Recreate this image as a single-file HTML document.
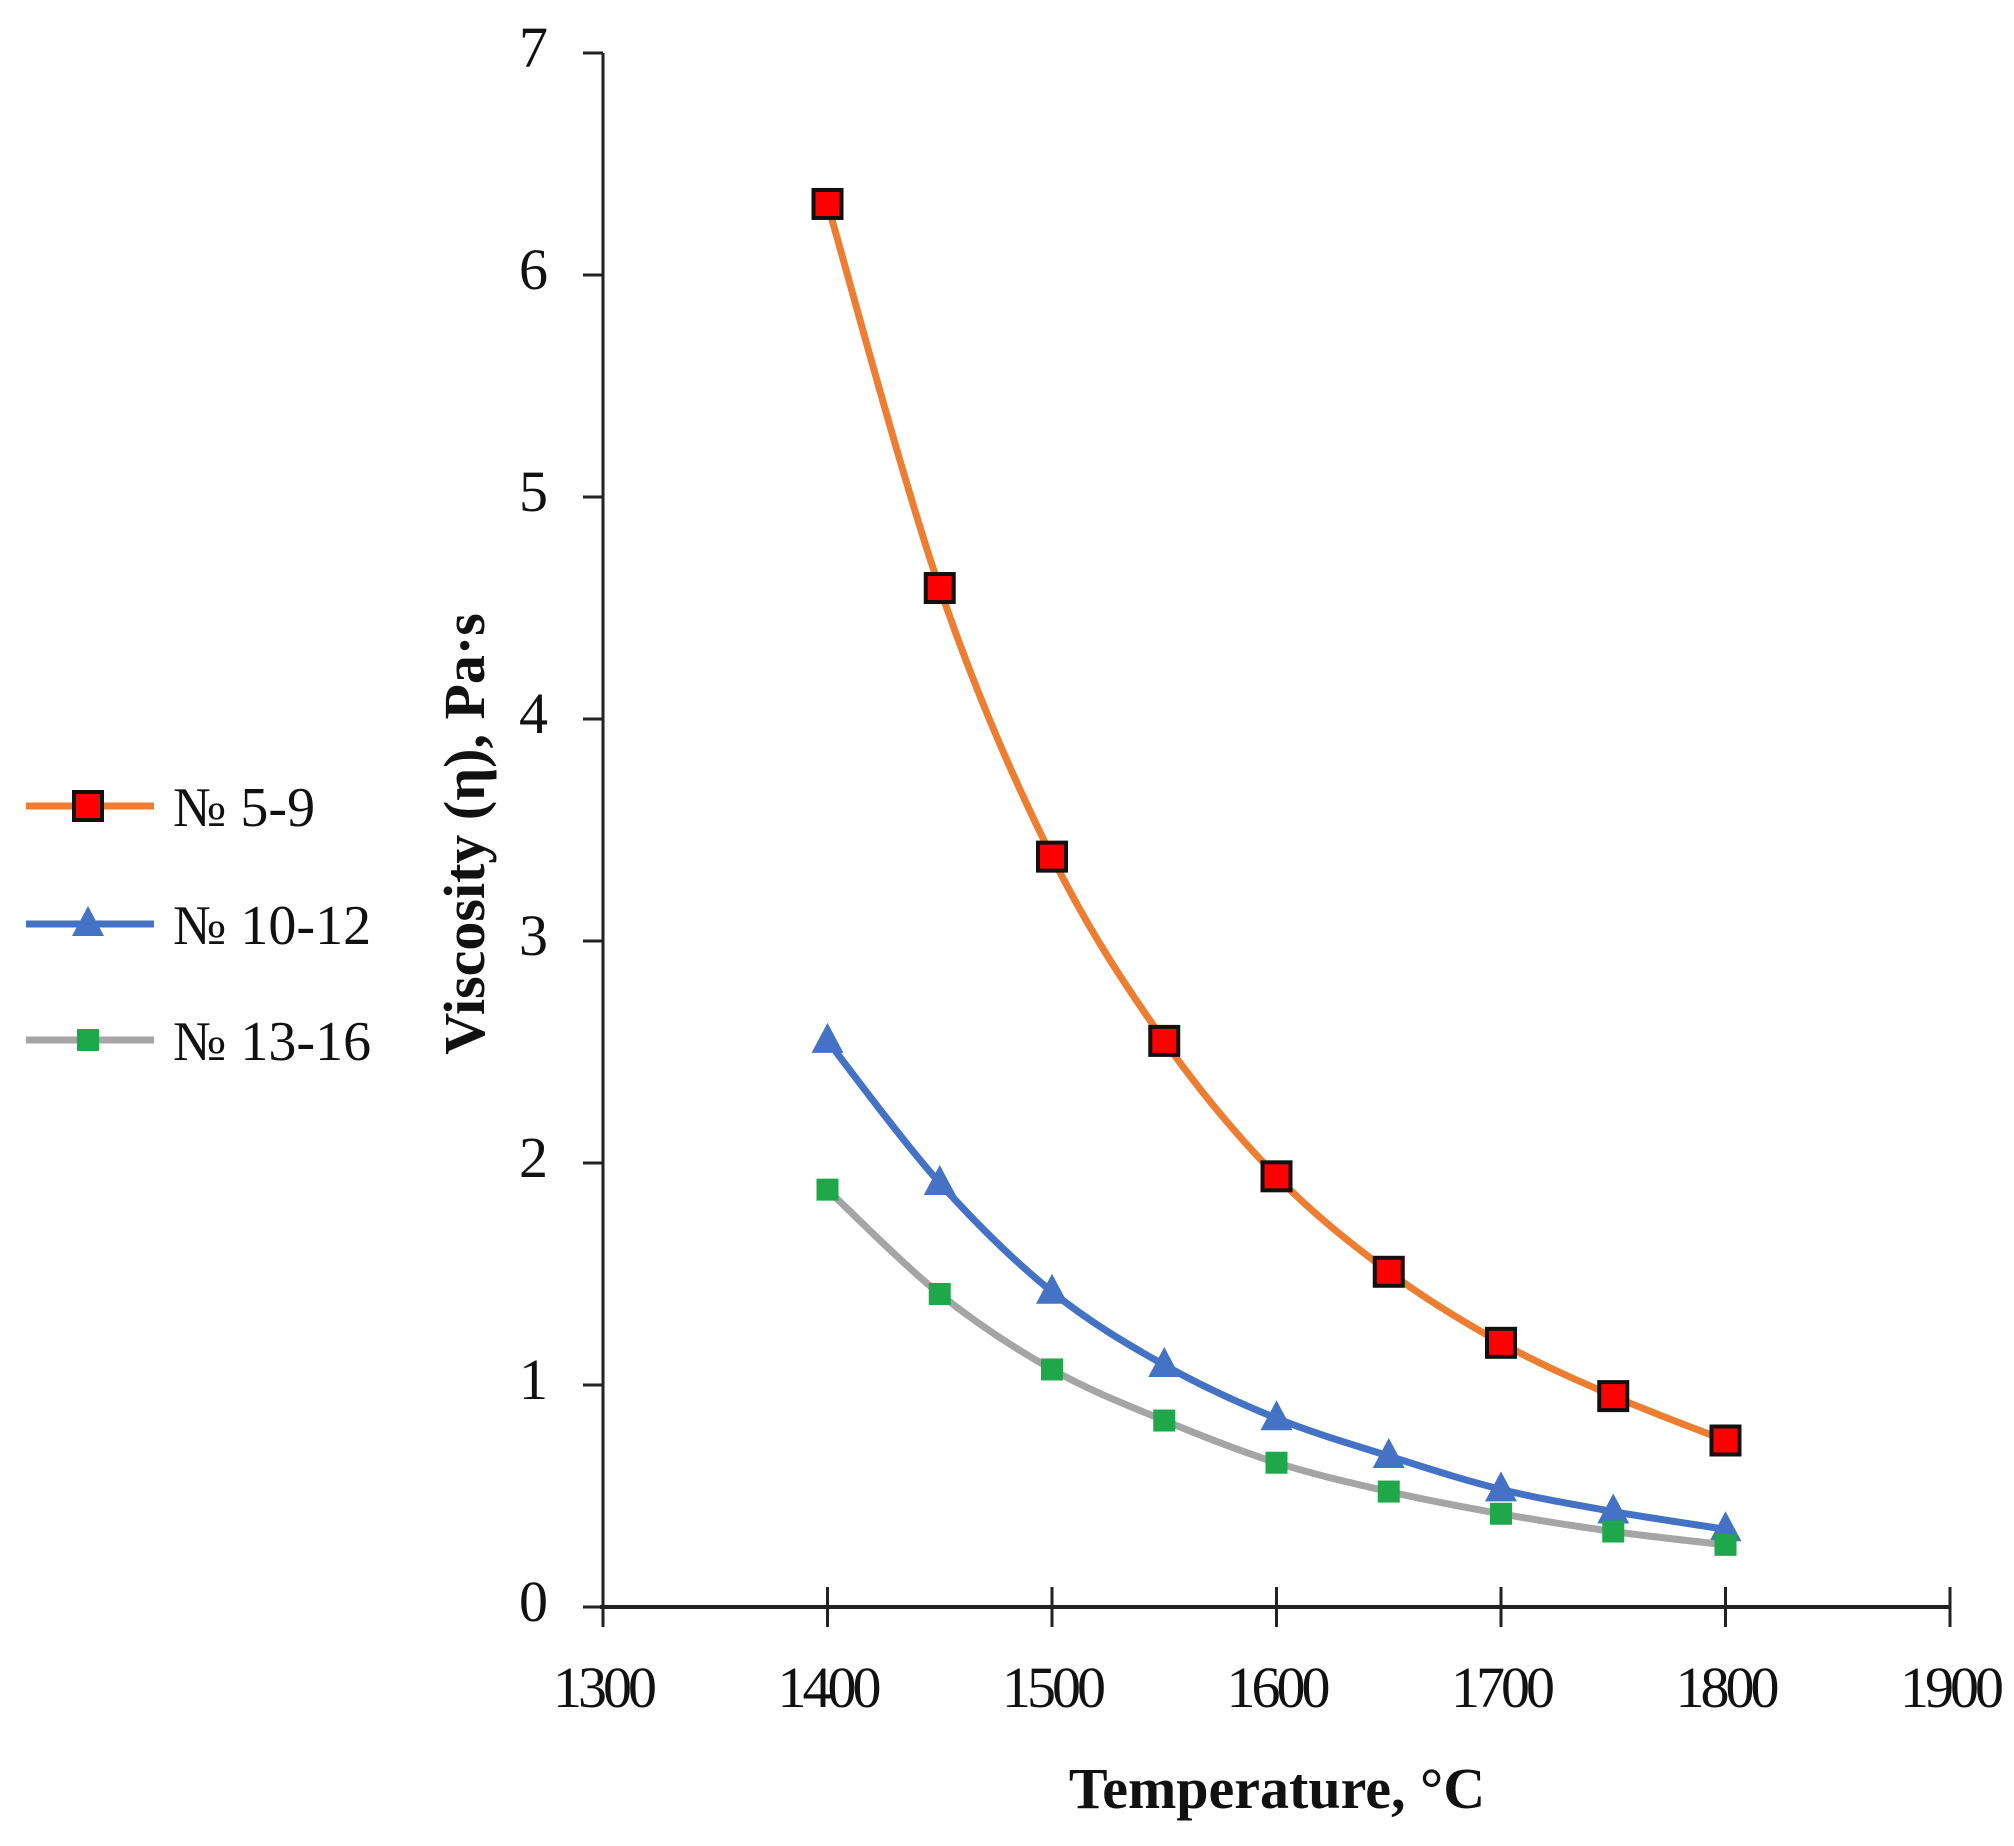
<!DOCTYPE html>
<html><head><meta charset="utf-8"><style>
body{margin:0;background:#fff}
svg{display:block}
text{font-family:"Liberation Serif",serif;fill:#111}
</style></head><body>
<svg id="c" width="2014" height="1846"></svg>
<script>
const temps=[1400,1450,1500,1550,1600,1650,1700,1750,1800];
const s59=[6.32,4.59,3.38,2.55,1.94,1.51,1.19,0.95,0.75];
const s1012=[2.55,1.91,1.42,1.09,0.85,0.68,0.53,0.43,0.35];
const s1316=[1.88,1.41,1.07,0.84,0.65,0.52,0.42,0.34,0.28];
const xTicks=[1300,1400,1500,1600,1700,1800,1900];
const yTicks=[0,1,2,3,4,5,6,7];
const NS="http://www.w3.org/2000/svg";
const svg=document.getElementById('c');
const X=v=>603+(v-1300)*(1950-603)/600;
const Y=v=>1607-v*(1607-53)/7;
function mk(t,a,p){const e=document.createElementNS(NS,t);for(const k in a)e.setAttribute(k,a[k]);(p||svg).appendChild(e);return e;}
let ya=mk('line',{x1:603,y1:53,x2:603,y2:1607,stroke:'#222','stroke-width':3});


let xa=mk('line',{x1:600,y1:1607,x2:1950,y2:1607,stroke:'#222','stroke-width':4});


yTicks.forEach(v=>{
  mk('line',{x1:583,y1:Y(v),x2:603,y2:Y(v),stroke:'#222','stroke-width':3});
  const t=mk('text',{x:548,y:Y(v)+14,'font-size':58,'text-anchor':'end'});t.textContent=v;
  
  
});
xTicks.forEach(v=>{
  mk('line',{x1:X(v),y1:1587,x2:X(v),y2:1627,stroke:'#222','stroke-width':3});
  const t=mk('text',{x:X(v),y:1707,'font-size':58,'text-anchor':'middle','letter-spacing':'-4'});t.textContent=v;
  
  
});
let xt=mk('text',{x:1277,y:1808,'font-size':58,'font-weight':'bold','text-anchor':'middle'});xt.textContent='Temperature, °C';


let yt=mk('text',{x:0,y:0,'font-size':58,'font-weight':'bold','text-anchor':'middle',transform:'translate(484,834) rotate(-90)'});yt.textContent='Viscosity (η), Pa·s';


function smooth(pts){
  let d='M'+pts[0][0]+','+pts[0][1];
  for(let i=0;i<pts.length-1;i++){
    const p0=pts[i-1]||pts[i],p1=pts[i],p2=pts[i+1],p3=pts[i+2]||p2;
    const c1=[p1[0]+(p2[0]-p0[0])/6,p1[1]+(p2[1]-p0[1])/6];
    const c2=[p2[0]-(p3[0]-p1[0])/6,p2[1]-(p3[1]-p1[1])/6];
    d+=' C'+c1+' '+c2+' '+p2;
  }
  return d;
}
function marker(type,x,y,g){
  if(type==='sq') return mk('rect',{x:x-14,y:y-14,width:28,height:28,fill:'#f00',stroke:'#111','stroke-width':4},g);
  if(type==='tri') return mk('polygon',{points:`${x},${y-18} ${x-16},${y+12} ${x+16},${y+12}`,fill:'#4472c4'},g);
  return mk('rect',{x:x-11,y:y-11,width:22,height:22,fill:'#1ea84a'},g);
}
const series=[
 {name:'№ 5-9',vals:s59,color:'#ed7d31',m:'sq',ly:806},
 {name:'№ 10-12',vals:s1012,color:'#4472c4',m:'tri',ly:924},
 {name:'№ 13-16',vals:s1316,color:'#a5a5a5',m:'gsq',ly:1040}
];
series.forEach((s,k)=>{
  const g=mk('g',{});
  
  
  const pts=temps.map((t,i)=>[X(t),Y(s.vals[i])]);
  mk('path',{d:smooth(pts),fill:'none',stroke:s.color,'stroke-width':7},g);
  pts.forEach(p=>{const m=marker(s.m,p[0],p[1],g);
    
    });
  const lg=mk('g',{});
  
  
  mk('line',{x1:26,y1:s.ly,x2:154,y2:s.ly,stroke:s.color,'stroke-width':7},lg);
  marker(s.m,88,s.ly,lg);
  const t=mk('text',{x:173,y:s.ly+20,'font-size':56},lg);t.textContent=s.name;
});
</script>
</body></html>
